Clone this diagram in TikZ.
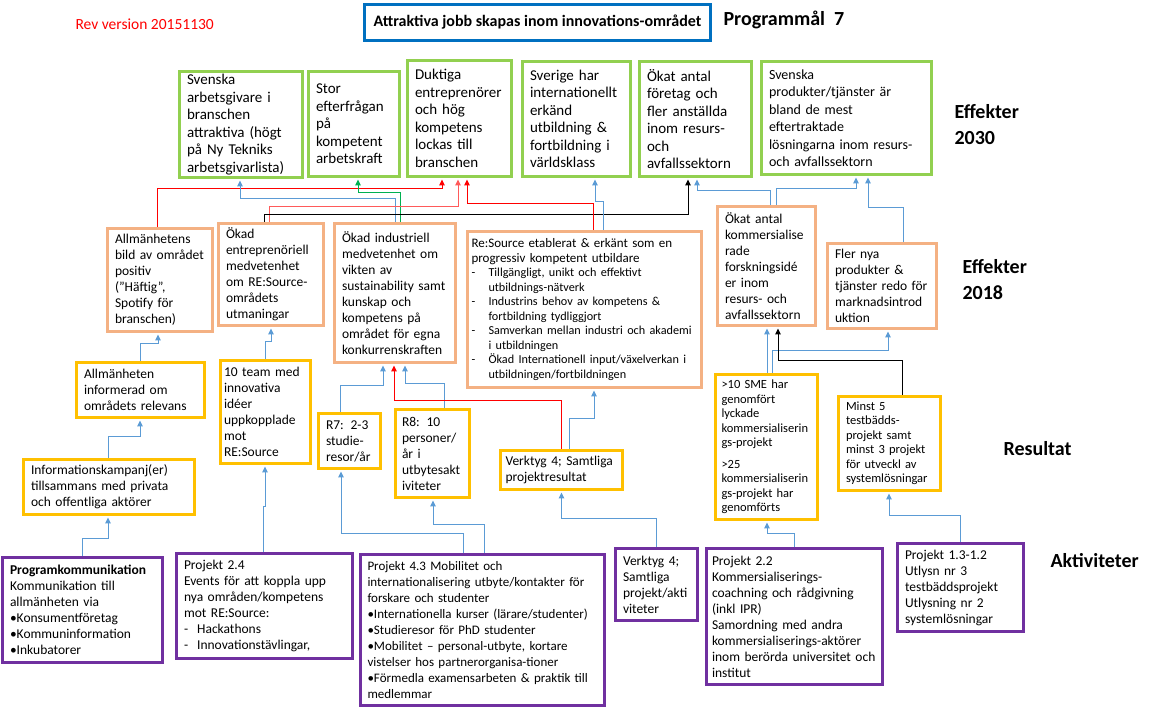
\documentclass[tikz,border=0pt]{standalone}
\usepackage{fontspec}
\setmainfont{Carlito}
\usetikzlibrary{arrows.meta}
\hyphenpenalty=10000
\exhyphenpenalty=10000

\begin{document}
\begin{tikzpicture}[x=1pt,y=1pt,
  box/.style={draw,line width=3pt,fill=white,align=left,inner xsep=8pt,inner ysep=2pt,font=\fontsize{13.5}{16}\selectfont},
  goal/.style={box,draw=goalgreen,font=\fontsize{15}{17.5}\selectfont},
  eff/.style={box,draw=effpeach},
  res/.style={box,draw=resgold},
  act/.style={box,draw=actpurple},
  lbl/.style={anchor=west,align=left,font=\bfseries\fontsize{20}{26}\selectfont},
  conn/.style={line width=1pt,-{Triangle[length=6pt,width=5.5pt]},shorten >=1.5pt},
  arrblue/.style={conn,draw=lineblue},
  arrred/.style={conn,draw=red},
  arrpink/.style={conn,draw=linepink},
  arrgreen/.style={conn,draw=linegreen},
  arrblack/.style={conn,draw=black}]
\definecolor{goalgreen}{RGB}{146,208,80}
\definecolor{effpeach}{RGB}{244,177,131}
\definecolor{resgold}{RGB}{255,192,0}
\definecolor{actpurple}{RGB}{112,48,160}
\definecolor{titleblue}{RGB}{0,112,192}
\definecolor{lineblue}{RGB}{91,155,213}
\definecolor{linepink}{RGB}{255,90,90}
\definecolor{linegreen}{RGB}{0,176,80}
\useasboundingbox (0,0) rectangle (1169,709);
\node[anchor=west,text=red,font=\fontsize{15.5}{18}\selectfont] (rev) at (72,685) {Rev version 20151130};
\node[draw=titleblue,line width=3pt,minimum width=346pt,minimum height=36pt,font=\bfseries\fontsize{16}{18}\selectfont] (title) at (537.5,686.5) {Attraktiva jobb skapas inom innovations-området};
\node[lbl] (prog) at (720,689.5) {Programmål\ \ 7};
\node[lbl] (lab30) at (951,584) {Effekter\\2030};
\node[lbl] (lab18) at (959,429) {Effekter\\2018};
\node[lbl] (labres) at (1000,260) {Resultat};
\node[lbl] (labakt) at (1047,148.5) {Aktiviteter};
\node[goal,minimum width=122pt,minimum height=106pt,text width=107pt] (e1) at (240.5,584.5) {Svenska\\arbetsgivare i\\branschen\\attraktiva (högt\\på Ny Tekniks\\arbetsgivarlista)};
\node[goal,minimum width=90pt,minimum height=105pt,text width=75pt] (e2) at (353.5,585) {Stor\\efterfrågan\\på\\kompetent\\arbetskraft};
\node[goal,minimum width=103pt,minimum height=116pt,text width=88pt] (e3) at (459,590.5) {Duktiga\\entreprenörer\\och hög\\kompetens\\lockas till\\branschen};
\node[goal,minimum width=107pt,minimum height=115pt,text width=92pt] (e4) at (576,590) {Sverige har\\internationellt\\erkänd\\utbildning \&\\fortbildning i\\världsklass};
\node[goal,minimum width=111pt,minimum height=115pt,text width=96pt] (e5) at (695,590) {Ökat antal\\företag och\\fler anställda\\inom resurs-\\och\\avfallssektorn};
\node[goal,minimum width=169pt,minimum height=113pt,text width=154pt,font=\fontsize{14}{17.5}\selectfont] (e6) at (846,591) {Svenska\\produkter/tjänster är\\bland de mest\\eftertraktade\\lösningarna inom resurs-\\och avfallssektorn};
\node[eff,minimum width=104pt,minimum height=103pt,text width=89pt] (f1) at (159.5,429) {Allmänhetens\\bild av området\\positiv\\(”Häftig”,\\Spotify för\\branschen)};
\node[eff,minimum width=104pt,minimum height=102pt,text width=89pt] (f2) at (270.5,434.5) {Ökad\\entreprenöriell\\medvetenhet\\om RE:Source-\\områdets\\utmaningar};
\node[eff,minimum width=120pt,minimum height=139pt,text width=105pt] (f3) at (394.5,416) {Ökad industriell\\medvetenhet om\\vikten av\\sustainability samt\\kunskap och\\kompetens på\\området för egna\\konkurrenskraften};
\node[eff,minimum width=232pt,minimum height=156pt,text width=226pt,inner xsep=4pt,font=\fontsize{13}{14.5}\selectfont] (f4) at (584.5,399.5) {Re:Source etablerat \& erkänt som en\\progressiv kompetent utbildare\\{\fontsize{12.2}{14.5}\selectfont\makebox[17pt][l]{-}Tillgängligt, unikt och effektivt}\\{\fontsize{12.2}{14.5}\selectfont\hspace*{17pt}utbildnings-nätverk}\\{\fontsize{12.2}{14.5}\selectfont\makebox[17pt][l]{-}Industrins behov av kompetens \&}\\{\fontsize{12.2}{14.5}\selectfont\hspace*{17pt}fortbildning tydliggjort}\\{\fontsize{12.2}{14.5}\selectfont\makebox[17pt][l]{-}Samverkan mellan industri och akademi}\\{\fontsize{12.2}{14.5}\selectfont\hspace*{17pt}i utbildningen}\\{\fontsize{12.2}{14.5}\selectfont\makebox[17pt][l]{-}Ökad Internationell input/växelverkan i}\\{\fontsize{12.2}{14.5}\selectfont\hspace*{17pt}utbildningen/fortbildningen}};
\node[eff,minimum width=97pt,minimum height=119pt,text width=82pt] (f5) at (766,443) {Ökat antal\\kommersialise\\rade\\forskningsidé\\er inom\\resurs- och\\avfallssektorn};
\node[eff,minimum width=108pt,minimum height=85pt,text width=93pt] (f6) at (881.5,423) {Fler nya\\produkter \&\\tjänster redo för\\marknadsintrod\\uktion};
\node[res,minimum width=127pt,minimum height=55pt,text width=112pt] (r1) at (140,319) {Allmänheten\\informerad om\\områdets relevans};
\node[res,minimum width=170pt,minimum height=55pt,text width=155pt] (r0) at (108.5,222) {Informationskampanj(er)\\tillsammans med privata\\och offentliga aktörer};
\node[res,minimum width=89pt,minimum height=103pt,text width=82pt,inner xsep=4pt] (r2) at (265,297) {10 team med\\innovativa\\idéer\\uppkopplade\\mot\\RE:Source};
\node[res,minimum width=61pt,minimum height=55pt,text width=46pt] (r3) at (349,268) {R7: 2-3\\studie-\\resor/år};
\node[res,minimum width=73pt,minimum height=88pt,text width=60pt,inner xsep=7pt] (r4) at (432,255.5) {R8: 10\\personer/\\år i\\utbytesakt\\iviteter};
\node[res,minimum width=122pt,minimum height=39pt,text width=112pt,inner xsep=5pt] (r5) at (561.5,239) {Verktyg 4; Samtliga\\projektresultat};
\node[res,minimum width=102pt,minimum height=145pt,text width=90pt,inner xsep=6pt,font=\fontsize{12.5}{14.5}\selectfont] (r6) at (766.5,262) {>10 SME har\\genomfört\\lyckade\\kommersialiserin\\gs-projekt\\[7pt]>25\\kommersialiserin\\gs-projekt har\\genomförts};
\node[res,minimum width=101pt,minimum height=94pt,text width=86pt,font=\fontsize{12.5}{14.5}\selectfont] (r7) at (889,265.5) {Minst 5\\testbädds-\\projekt samt\\minst 3 projekt\\för utveckl av\\systemlösningar};
\node[act,minimum width=159pt,minimum height=105pt,text width=144pt] (a1) at (82,99) {\textbf{Programkommunikation}\\Kommunikation till\\allmänheten via\\•Konsumentföretag\\•Kommuninformation\\•Inkubatorer};
\node[act,minimum width=175pt,minimum height=105pt,text width=160pt] (a2) at (264,103) {Projekt 2.4\\Events för att koppla upp\\nya områden/kompetens\\mot RE:Source:\\-\ \ Hackathons\\-\ \ Innovationstävlingar,};
\node[act,minimum width=244pt,minimum height=151pt,text width=230pt,inner xsep=7pt,font=\fontsize{13}{16}\selectfont] (a3) at (482.5,79) {Projekt 4.3 Mobilitet och\\internationalisering utbyte/kontakter för\\forskare och studenter\\•Internationella kurser (lärare/studenter)\\•Studieresor för PhD studenter\\•Mobilitet – personal-utbyte, kortare\\vistelser hos partnerorganisa-tioner\\•Förmedla examensarbeten \& praktik till\\medlemmar};
\node[act,minimum width=81pt,minimum height=72pt,text width=66pt] (a4) at (656,124.5) {Verktyg 4;\\Samtliga\\projekt/akti\\viteter};
\node[act,minimum width=175pt,minimum height=136pt,text width=164pt,inner xsep=6pt] (a5) at (794,92.5) {Projekt 2.2\\Kommersialiserings-\\coachning och rådgivning\\(inkl IPR)\\Samordning med andra\\kommersialiserings-aktörer\\inom berörda universitet och\\institut};
\node[act,minimum width=125pt,minimum height=88pt,text width=110pt] (a6) at (960,121.5) {Projekt 1.3-1.2\\Utlysn nr 3\\testbäddsprojekt\\Utlysning nr 2\\systemlösningar};
\draw[arrred] ([xshift=-2.5pt]f1.north) -- ++(0,38.5) -| ([xshift=-17pt]e3.south);
\draw[arrblue] ([xshift=0.5pt]f3.north) -- ++(0,23.5) -| ([xshift=-0.5pt]e1.south);
\draw[arrgreen] ([xshift=5.5pt]f3.north) -- ++(0,29.5) -| ([xshift=4.5pt]e2.south);
\draw[arrpink] ([xshift=-1.5pt]f2.north) -- ++(0,15.5) -| ([xshift=-1pt]e3.south);
\draw[arrblack] ([xshift=-6.5pt]f2.north) -- ++(0,7.5) -| ([xshift=-7pt]e5.south);
\draw[arrred] ([xshift=8.5pt]f4.north) -- ++(0,26.5) -| ([xshift=8pt]e3.south);
\draw[arrblue] ([xshift=18.5pt]f4.north) -- ++(0,28) -| ([xshift=19pt]e4.south);
\draw[arrblue] ([xshift=4pt]f5.north) -- ++(0,14.5) -| ([xshift=2pt]e5.south);
\draw[arrblue] ([xshift=10pt]f5.north) -- ++(0,16.5) -| ([xshift=10pt]e6.south);
\draw[arrblue] ([xshift=21.5pt]f6.north) -- ++(0,34.5) -| ([xshift=22pt]e6.south);
\draw[arrblue] (r1.north) -- ++(0,17.5) -| ([xshift=-1.5pt]f1.south);
\draw[arrblue] ([xshift=-0.5pt]r0.north) -- ++(0,21.5) -| (r1.south);
\draw[arrblue] (a1.north) -- ++(0,17.5) -| ([xshift=-0.5pt]r0.south);
\draw[arrblue] ([xshift=-1pt]a2.north) -- ++(0,45.5) -| (r2.south);
\draw[arrblue] (r2.north) -- ++(0,17.5) -| ([xshift=0.5pt]f2.south);
\draw[arrblue] ([xshift=-19.5pt]a3.north) -- ++(0,19.5) -| ([xshift=-8pt]r3.south);
\draw[arrblue] ([xshift=1.5pt]a3.north) -- ++(0,28.5) -| ([xshift=1pt]r4.south);
\draw[arrblue] ([xshift=-9pt]r3.north) -- ++(0,26.5) -| ([xshift=-11.5pt]f3.south);
\draw[arrblue] ([xshift=12pt]r4.north) -- ++(0,24.5) -| ([xshift=10.5pt]f3.south);
\draw[arrred] ([xshift=-0.5pt]r5.north) -- ++(0,48.5) -| ([xshift=-0.5pt]f3.south);
\draw[arrblue] ([xshift=7.5pt]r5.north) -- ++(0,30.5) -| ([xshift=9.5pt]f4.south);
\draw[arrblue] (a4.north) -- ++(0,28.5) -| (r5.south);
\draw[arrblue] (a5.north) -- ++(0,13.5) -| ([xshift=0.5pt]r6.south);
\draw[arrblue] (a6.north) -- ++(0,26.5) -| (r7.south);
\draw[arrblue] ([xshift=0.5pt]r6.north) -- ([xshift=1pt]f5.south);
\draw[arrblue] ([xshift=5.5pt]r6.north) -- ++(0,22.5) -| ([xshift=6.5pt]f6.south);
\draw[arrblack] ([xshift=13pt]r7.north) -- ++(0,34.5) -| ([xshift=12pt]f5.south);
\end{tikzpicture}
\end{document}
